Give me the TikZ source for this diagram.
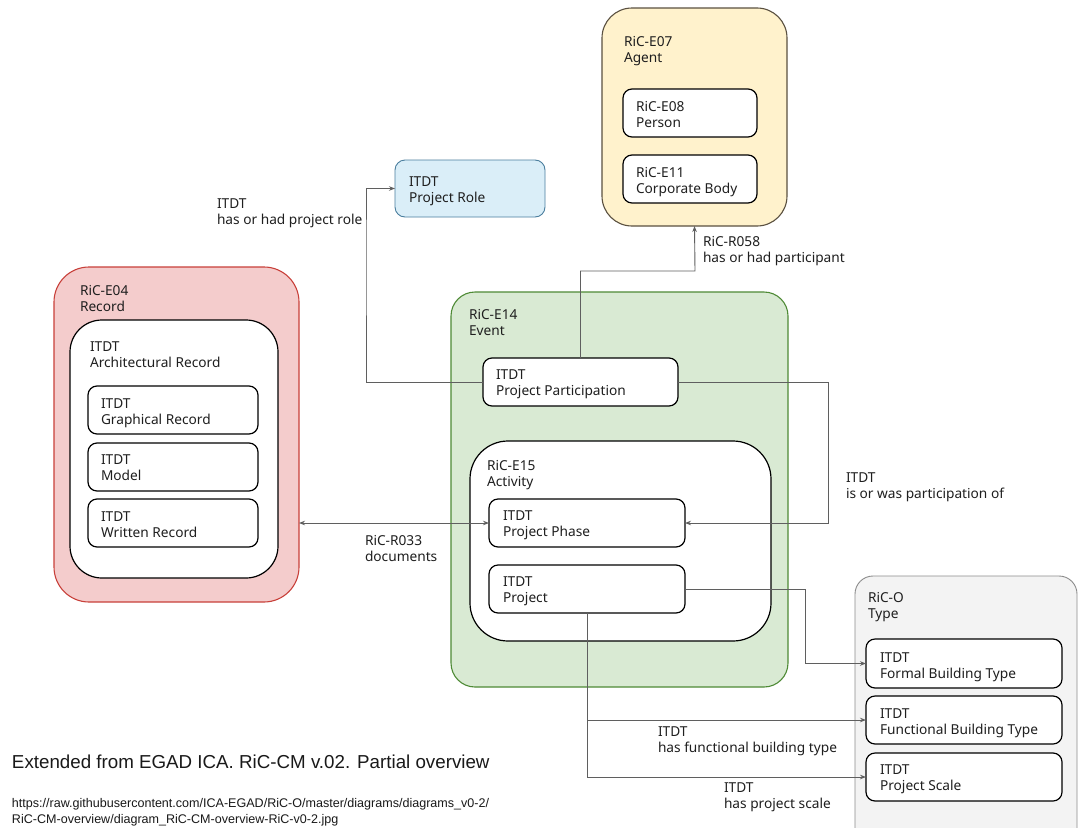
\documentclass[tikz,border=0pt]{standalone}
\usepackage{fontspec}
\setmainfont{Noto Sans}
\newfontfamily\arialfont{Liberation Sans}
\usetikzlibrary{fit,arrows.meta,calc}
\definecolor{yelfill}{HTML}{FFF2CC}
\definecolor{yeldraw}{HTML}{5A5040}
\definecolor{bluefill}{HTML}{DAEEF8}
\definecolor{bluedraw}{HTML}{4A7E9E}
\definecolor{redfill}{HTML}{F4CCCC}
\definecolor{reddraw}{HTML}{C8403A}
\definecolor{grnfill}{HTML}{D9EAD3}
\definecolor{grndraw}{HTML}{4E8A35}
\definecolor{gryfill}{HTML}{F3F3F3}
\definecolor{grydraw}{HTML}{8C8C8C}
\definecolor{conncol}{HTML}{5F5F5F}
\begin{document}
\begin{tikzpicture}[x=1pt,y=-1pt,
  every node/.style={inner sep=0pt, outer sep=0pt},
  container/.style={draw, line width=1.1pt, inner sep=0pt},
  whitebox/.style={draw=black, fill=white, line width=1.2pt, inner sep=0pt, rounded corners=9pt},
  lbl/.style={font=\fontsize{13.7}{16.8}\selectfont, align=left, anchor=base west, text=black!88, yshift=-16.8pt},
  conn/.style={draw=conncol, line width=0.9pt, -{Stealth[length=6pt,width=4.5pt]}},
]
\clip (0,0) rectangle (1078,827);
\fill[white] (0,0) rectangle (1078,827);

% Agent
\node[container, draw=yeldraw, fill=yelfill, rounded corners=30pt, fit={(602,8) (787,226)}] (agent) {};
\node[lbl] (agent-t) at (624,46) {RiC-E07\\Agent};
\node[whitebox, fit={(623,89) (757,137)}] (person) {};
\node[lbl] (person-t) at (636,111) {RiC-E08\\Person};
\node[whitebox, fit={(623,155) (757,203)}] (corp) {};
\node[lbl] (corp-t) at (636,177) {RiC-E11\\Corporate Body};

% Project role
\node[container, draw=bluedraw, fill=bluefill, rounded corners=10pt, line width=0.9pt, fit={(395,160) (545,217)}] (role) {};
\node[lbl] (role-t) at (409,186) {ITDT\\Project Role};

% Record
\node[container, draw=reddraw, fill=redfill, rounded corners=35pt, fit={(54,267) (299,602)}] (record) {};
\node[lbl] (record-t) at (80,295) {RiC-E04\\Record};
\node[whitebox, rounded corners=32pt, fit={(70,320) (278,578)}] (arch) {};
\node[lbl] (arch-t) at (90,351) {ITDT\\Architectural Record};
\node[whitebox, fit={(88,386) (258,434)}] (graph) {};
\node[lbl] (graph-t) at (101,408) {ITDT\\Graphical Record};
\node[whitebox, fit={(88,443) (258,491)}] (model) {};
\node[lbl] (model-t) at (101,464) {ITDT\\Model};
\node[whitebox, fit={(88,499) (258,547)}] (written) {};
\node[lbl] (written-t) at (101,521) {ITDT\\Written Record};

% Event
\node[container, draw=grndraw, fill=grnfill, rounded corners=24pt, fit={(451,292) (788,687)}] (event) {};
\node[lbl] (event-t) at (469,319) {RiC-E14\\Event};
\node[whitebox, fit={(483,358) (678,406)}] (pp) {};
\node[lbl] (pp-t) at (496,379) {ITDT\\Project Participation};
\node[whitebox, rounded corners=38pt, fit={(470,441) (771,641)}] (activity) {};
\node[lbl] (activity-t) at (487,470) {RiC-E15\\Activity};
\node[whitebox, fit={(489,499) (685,547)}] (phase) {};
\node[lbl] (phase-t) at (503,520) {ITDT\\Project Phase};
\node[whitebox, fit={(489,565) (685,613)}] (project) {};
\node[lbl] (project-t) at (503,586) {ITDT\\Project};

% Type
\node[container, draw=grydraw, fill=gryfill, rounded corners=18pt, line width=0.9pt, fit={(855,576) (1077,850)}] (type) {};
\node[lbl] (type-t) at (868,602) {RiC-O\\Type};
\node[whitebox, fit={(866,639) (1062,688)}] (formal) {};
\node[lbl] (formal-t) at (880,662) {ITDT\\Formal Building Type};
\node[whitebox, fit={(866,696) (1062,744)}] (functional) {};
\node[lbl] (functional-t) at (880,718) {ITDT\\Functional Building Type};
\node[whitebox, fit={(866,753) (1062,801)}] (scale) {};
\node[lbl] (scale-t) at (880,774) {ITDT\\Project Scale};

% Connectors
\coordinate (k0) at (366,250);
\draw[conn] (pp.west) -| (k0) |- (role.west);
\node[lbl] (l-role) at (217,208) {ITDT\\has or had project role};

\coordinate (k1) at (695,271);
\draw[conn] (pp.north) |- (k1) -- (agent.south);
\node[lbl] (l-part) at (703,246) {RiC-R058\\has or had participant};

\coordinate (k2) at (828,450);
\draw[conn] (pp.east) -| (k2) |- (phase.east);
\node[lbl] (l-partof) at (846,482) {ITDT\\is or was participation of};

\draw[conn, {Stealth[length=6pt,width=4.5pt]}-{Stealth[length=6pt,width=4.5pt]}] (record.east |- phase.west) -- (phase.west);
\node[lbl] (l-doc) at (365,545) {RiC-R033\\documents};

\coordinate (k3) at (805,620);
\draw[conn] (project.east) -| (k3) |- (formal.west);
\draw[conn] (project.south) |- (functional.west);
\draw[conn] (project.south) |- (scale.west);
\node[lbl] (l-func) at (658,736) {ITDT\\has functional building type};
\node[lbl] (l-scale) at (724,792) {ITDT\\has project scale};

% Caption
\node[anchor=base west, font=\arialfont\fontsize{18.75}{22}\selectfont, text=black!90] (title) at (12,768) {Extended from EGAD ICA. RiC-CM v.02. Partial overview};
\node[anchor=base west, align=left, font=\arialfont\fontsize{12.55}{16}\selectfont, text=black!90] (url) at (12,823) {https://raw.githubusercontent.com/ICA-EGAD/RiC-O/master/diagrams/diagrams\_v0-2/\\RiC-CM-overview/diagram\_RiC-CM-overview-RiC-v0-2.jpg};
\end{tikzpicture}
\end{document}
